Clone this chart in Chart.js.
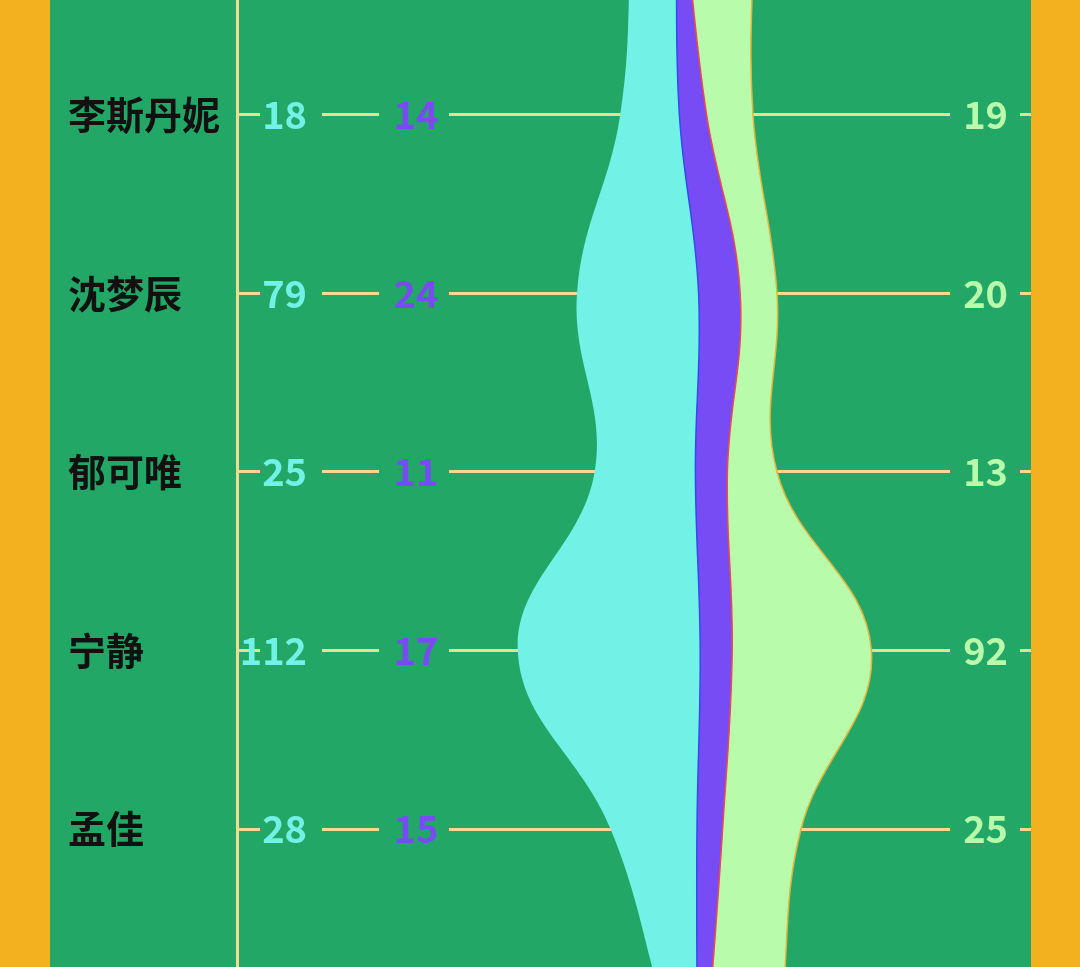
<!DOCTYPE html>
<html>
<head>
<meta charset="utf-8">
<script src="https://cdn.jsdelivr.net/npm/chart.js@4.4.1/dist/chart.umd.min.js"></script>
<style>
    html, body { margin: 0; padding: 0; background: #f3b11f; overflow: hidden; }
    #wrap { position: absolute; left: 50px; top: 0; width: 981px; height: 967px; background: #23a766; }
</style>
</head>
<body>
<div id="wrap"><canvas id="grafico-stream"></canvas></div>
<script>
const NAMES = ['李斯丹妮', '沈梦辰', '郁可唯', '宁静', '孟佳'];

// numbers printed on each row
const cyanValues = [18, 79, 25, 112, 28];
const purpleValues = [14, 24, 11, 17, 15];
const greenValues = [19, 20, 13, 92, 25];

// stream thickness per row (rows -1 and 5 sit just outside the picture)
const ROWS = [-1, 0, 1, 2, 3, 4, 5];
const baseline = [-41, -48, -75, -64, -112, -54, -21];
const cyanFlow = [28, 37, 76, 63, 114, 54, 21];
const purpleFlow = [6, 17, 26, 20, 20, 16, 8];
const greenFlow = [42, 29, 23, 31, 87, 49, 45];

const LINE_COLOR = '#f2da8e';

function toPoints(arr) {
    return arr.map((v, i) => ({ x: v, y: ROWS[i] }));
}

const rowNumbers = {
    id: 'rowNumbers',
    afterDatasetsDraw(chart, args, opts) {
        const ctx = chart.ctx;
        const yScale = chart.scales.y;
        ctx.save();
        ctx.font = opts.font;
        ctx.textBaseline = 'middle';
        opts.columns.forEach(col => {
            ctx.fillStyle = col.color;
            ctx.textAlign = col.align;
            col.values.forEach((v, i) => {
                ctx.fillText(String(v), col.x, yScale.getPixelForValue(i));
            });
        });
        ctx.restore();
    }
};

const data = {
    datasets: [
        {
            label: 'base',
            data: toPoints(baseline),
            borderWidth: 0,
            borderColor: 'rgba(0,0,0,0)',
            fill: false
        },
        {
            label: 'cyan',
            data: toPoints(cyanFlow),
            borderColor: '#2f4cf2',
            borderWidth: 1.5,
            backgroundColor: '#72f1e6',
            fill: '-1'
        },
        {
            label: 'purple',
            data: toPoints(purpleFlow),
            borderColor: '#ee4a4a',
            borderWidth: 1.5,
            backgroundColor: '#774cf5',
            fill: '-1'
        },
        {
            label: 'green',
            data: toPoints(greenFlow),
            borderColor: '#e4b43c',
            borderWidth: 1.5,
            backgroundColor: '#b8fbab',
            fill: '-1'
        }
    ]
};

const CHART = document.getElementById('grafico-stream');
const chart = new Chart(CHART, {
    type: 'line',
    data: data,
    plugins: [rowNumbers],
    options: {
        indexAxis: 'y',
        responsive: true,
        maintainAspectRatio: false,
        animation: false,
        layout: { padding: { left: 18, top: 0, right: 0, bottom: 0 } },
        elements: {
            point: { radius: 0 },
            line: { tension: 0.4 }
        },
        plugins: {
            legend: { display: false },
            tooltip: { enabled: false },
            rowNumbers: {
                font: 'bold 38px "Noto Sans CJK SC", "Noto Sans"',
                columns: [
                    { values: cyanValues, color: '#72f1e6', x: 257, align: 'right' },
                    { values: purpleValues, color: '#774cf5', x: 366, align: 'center' },
                    { values: greenValues, color: '#b8fbab', x: 958, align: 'right' }
                ]
            }
        },
        scales: {
            x: {
                type: 'linear',
                stacked: 'single',
                display: false,
                min: -287.5,
                max: 208.75
            },
            y: {
                type: 'linear',
                reverse: true,
                min: -0.644,
                max: 4.773,
                afterBuildTicks: scale => {
                    scale.ticks = NAMES.map((n, i) => ({ value: i }));
                },
                afterFit: scale => {
                    scale.width = 169;
                    scale.paddingTop = 0;
                    scale.paddingBottom = 0;
                },
                ticks: {
                    callback: value => NAMES[value],
                    crossAlign: 'far',
                    autoSkip: false,
                    padding: 0,
                    color: '#111111',
                    font: { family: '"Noto Sans CJK SC"', size: 38, weight: 'bold' }
                },
                grid: {
                    color: LINE_COLOR,
                    lineWidth: 3,
                    drawTicks: false
                },
                border: {
                    display: true,
                    color: LINE_COLOR,
                    width: 3,
                    dash: [21, 62, 57, 70, 501, 70, 13, 100]
                }
            }
        }
    }
});
</script>
</body>
</html>
